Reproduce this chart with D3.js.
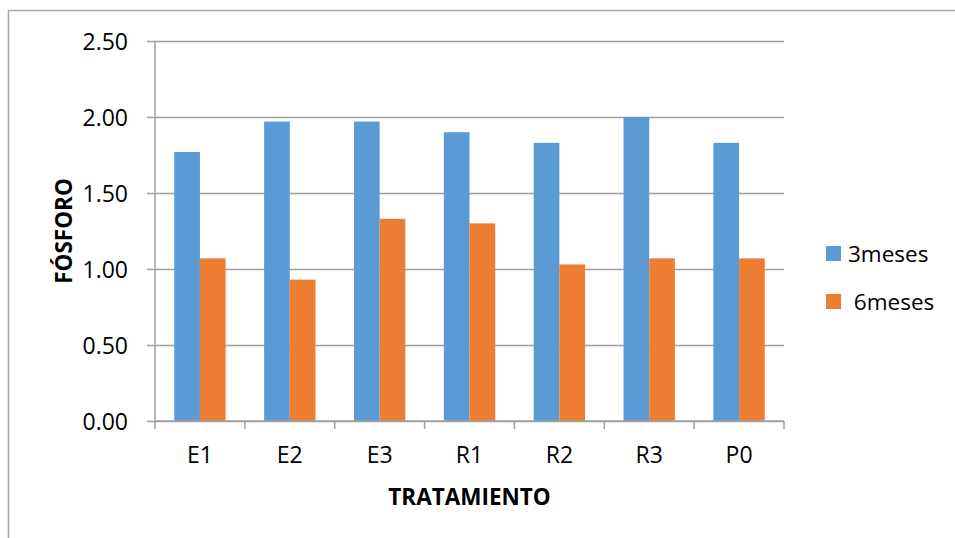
<!DOCTYPE html>
<html>
<head>
<meta charset="utf-8">
<script src="https://cdn.jsdelivr.net/npm/d3@7"></script>
<style>
  html, body { margin: 0; padding: 0; background: #fff; }
  svg { display: block; font-family: "Open Sans", "Liberation Sans", sans-serif; }
</style>
</head>
<body>
<svg id="chart" width="955" height="538"></svg>
<script>
// Treatments along the x axis
const categories = ["E1", "E2", "E3", "R1", "R2", "R3", "P0"];
// Series names as shown in the legend
const seriesNames = ["3meses", " 6meses"];
// Phosphorus values per treatment
const values3meses = [1.77, 1.97, 1.97, 1.90, 1.83, 2.00, 1.83];
const values6meses = [1.07, 0.93, 1.33, 1.30, 1.03, 1.07, 1.07];
// Y axis ticks
const yTicks = [0, 0.5, 1.0, 1.5, 2.0, 2.5];

const colors = ["#5B9BD5", "#ED7D31"];
const series = [values3meses, values6meses];

const svg = d3.select("#chart");
const margin = { left: 155, right: 171, top: 41, bottom: 117 };
const W = 955, H = 538;
const plotW = W - margin.right - margin.left;

// Outer chart frame
svg.append("path")
  .attr("d", `M8.5,${H} V10.5 H${W}`)
  .attr("fill", "none")
  .attr("stroke", "#a6a6a6")
  .attr("stroke-width", 1.5);

const x = d3.scaleBand()
  .domain(categories)
  .range([margin.left, W - margin.right])
  .paddingInner(0)
  .paddingOuter(0);

const y = d3.scaleLinear()
  .domain([0, 2.5])
  .range([H - margin.bottom, margin.top]);

// Horizontal gridlines with small ticks left of the axis
const yAxis = d3.axisLeft(y)
  .tickValues(yTicks)
  .tickFormat(d3.format(".2f"))
  .tickSize(8)
  .tickPadding(19);

const gy = svg.append("g")
  .attr("transform", `translate(${margin.left},0)`)
  .call(yAxis);
gy.select(".domain").remove();
gy.selectAll(".tick line")
  .attr("x1", -8)
  .attr("x2", plotW)
  .attr("stroke", "#a0a0a0")
  .attr("stroke-width", 1.5);
gy.selectAll(".tick text")
  .attr("fill", "#000")
  .style("font-size", "23px")
  .style("font-family", "'Open Sans', sans-serif")
  .attr("dy", "0.36em");

// Vertical axis line
svg.append("line")
  .attr("x1", margin.left).attr("x2", margin.left)
  .attr("y1", margin.top).attr("y2", H - margin.bottom)
  .attr("stroke", "#a0a0a0").attr("stroke-width", 1.5);

// Bars: each band holds two bars, gap width 150%
const barW = x.bandwidth() / 3.5;
const groupOffset = (x.bandwidth() - 2 * barW) / 2;

series.forEach((vals, si) => {
  svg.append("g")
    .selectAll("rect")
    .data(vals)
    .join("rect")
    .attr("x", (d, i) => x(categories[i]) + groupOffset + si * barW)
    .attr("y", d => y(d))
    .attr("width", barW)
    .attr("height", d => y(0) - y(d))
    .attr("fill", colors[si]);
});

// Category axis at the bottom
const xAxis = d3.axisBottom(x)
  .tickSize(0)
  .tickPadding(26);
const gx = svg.append("g")
  .attr("transform", `translate(0,${y(0)})`)
  .call(xAxis);
gx.select(".domain")
  .attr("d", `M${margin.left},0H${W - margin.right}`)
  .attr("stroke", "#a0a0a0").attr("stroke-width", 1.5);
gx.selectAll(".tick text")
  .attr("fill", "#000")
  .style("font-size", "23px")
  .style("font-family", "'Open Sans', sans-serif");

// Tick marks on band boundaries
const boundaries = categories.map(c => x(c)).concat([x(categories[categories.length - 1]) + x.bandwidth()]);
gx.append("g").selectAll("line")
  .data(boundaries)
  .join("line")
  .attr("x1", d => d).attr("x2", d => d)
  .attr("y1", 0).attr("y2", 8)
  .attr("stroke", "#a0a0a0").attr("stroke-width", 1.5);

// Axis titles
svg.append("text")
  .attr("x", (margin.left + W - margin.right) / 2)
  .attr("y", 505)
  .attr("text-anchor", "middle")
  .style("font-size", "22.5px")
  .style("font-weight", "bold")
  .text("TRATAMIENTO");

svg.append("text")
  .attr("transform", `translate(72,${(y(0) + y(2.5)) / 2}) rotate(-90)`)
  .attr("text-anchor", "middle")
  .style("font-size", "22.5px")
  .style("font-weight", "bold")
  .text("FÓSFORO");

// Legend
const legend = svg.append("g");
seriesNames.forEach((name, i) => {
  const ly = 246 + i * 48;
  legend.append("rect")
    .attr("x", 826).attr("y", ly)
    .attr("width", 15).attr("height", 15)
    .attr("fill", colors[i]);
  legend.append("text")
    .attr("x", 848).attr("y", ly + 16)
    .style("font-size", "22.5px")
    .style("white-space", "pre")
    .attr("xml:space", "preserve")
    .text(name);
});
</script>
</body>
</html>
